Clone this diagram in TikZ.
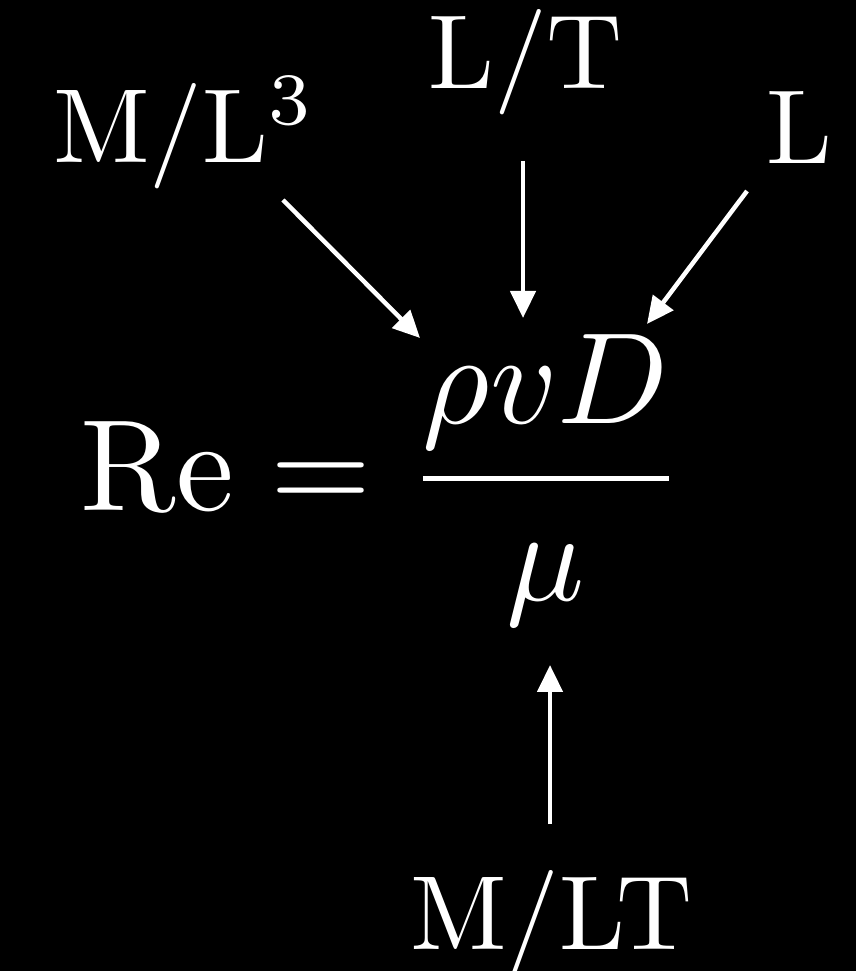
\documentclass[tikz,border=0pt]{standalone}
\usetikzlibrary{arrows.meta}
\tikzset{
  lab/.style={text=white, inner sep=0pt, anchor=base west, font=\normalsize, scale=1.054, transform shape},
  eqn/.style={text=white, inner sep=0pt, anchor=base west, font=\normalsize, scale=1.30, transform shape},
  arr/.style={draw=white, line width=0.45pt, -{Triangle[length=2.7pt,width=2.5pt]}}
}
\begin{document}
\begin{tikzpicture}[x=0.1pt,y=-0.1pt]
  \fill[black] (0,0) rectangle (856,971);
  \useasboundingbox (0,0) rectangle (856,971);
  % labels
  \node[lab] (dens) at (51,163) {$\mathrm{M/L^3}$};
  \node[lab] (vel) at (426,89) {$\mathrm{L/T}$};
  \node[lab] (len) at (764,164) {$\mathrm{L}$};
  \node[lab] (visc) at (408,949) {$\mathrm{M/LT}$};
  % formula
  \node[eqn] (re) at (78,511) {$\displaystyle \mathrm{Re} = \frac{\rho v D}{\mu}$};
  % arrow end points
  \coordinate (a1s) at (283,200);
  \coordinate (a1e) at (420,338);
  \coordinate (a2s) at (523,161);
  \coordinate (a2e) at (523,318);
  \coordinate (a3s) at (747,191);
  \coordinate (a3e) at (647,324);
  \coordinate (a4s) at (550,824);
  \coordinate (a4e) at (550,665);
  \draw[arr] (a1s) -- (a1e);
  \draw[arr] (a2s) -- (a2e);
  \draw[arr] (a3s) -- (a3e);
  \draw[arr] (a4s) -- (a4e);
\end{tikzpicture}
\end{document}
